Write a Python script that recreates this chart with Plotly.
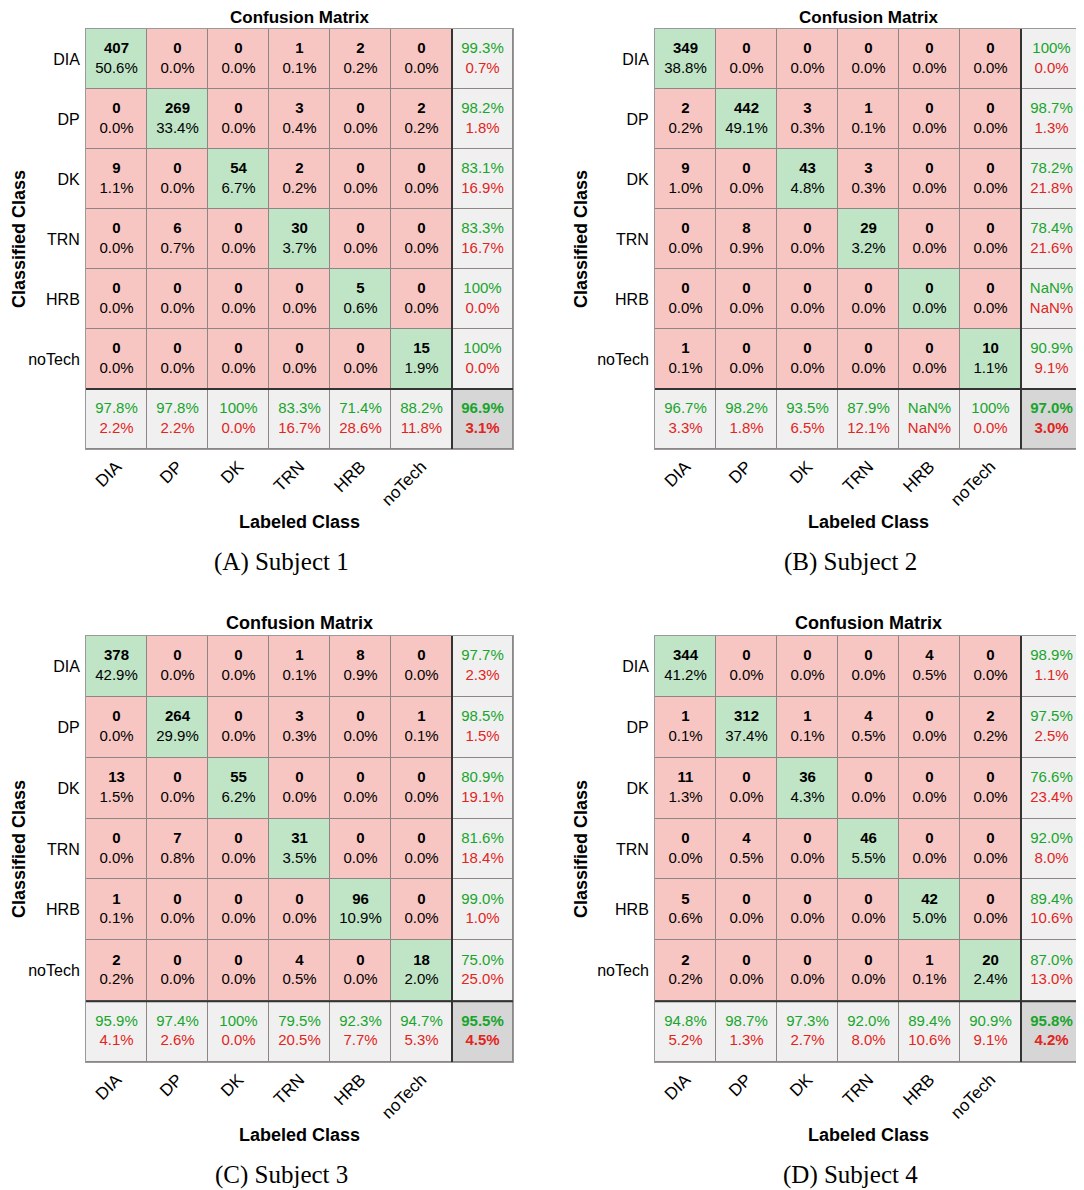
import math

import plotly.graph_objects as go

# Class names (rows = classified, columns = labeled)
CLASSES = ["DIA", "DP", "DK", "TRN", "HRB", "noTech"]

# Confusion counts
COUNTS_A = [
    [407, 0, 0, 1, 2, 0],
    [0, 269, 0, 3, 0, 2],
    [9, 0, 54, 2, 0, 0],
    [0, 6, 0, 30, 0, 0],
    [0, 0, 0, 0, 5, 0],
    [0, 0, 0, 0, 0, 15],
]
COUNTS_B = [
    [349, 0, 0, 0, 0, 0],
    [2, 442, 3, 1, 0, 0],
    [9, 0, 43, 3, 0, 0],
    [0, 8, 0, 29, 0, 0],
    [0, 0, 0, 0, 0, 0],
    [1, 0, 0, 0, 0, 10],
]
COUNTS_C = [
    [378, 0, 0, 1, 8, 0],
    [0, 264, 0, 3, 0, 1],
    [13, 0, 55, 0, 0, 0],
    [0, 7, 0, 31, 0, 0],
    [1, 0, 0, 0, 96, 0],
    [2, 0, 0, 4, 0, 18],
]
COUNTS_D = [
    [344, 0, 0, 0, 4, 0],
    [1, 312, 1, 4, 0, 2],
    [11, 0, 36, 0, 0, 0],
    [0, 4, 0, 46, 0, 0],
    [5, 0, 0, 0, 42, 0],
    [2, 0, 0, 0, 1, 20],
]
CAPTIONS = ["(A) Subject 1", "(B) Subject 2", "(C) Subject 3", "(D) Subject 4"]

# the page body has an 8px margin, so the figure is shifted by OFF
OFF = 8
W, H = 1084 - OFF, 1190 - OFF
RED_CELL = "#f8c6c2"
GREEN_CELL = "#bfe5c6"
GREY_CELL = "#f0f0f0"
DARK_CELL = "#d6d6d6"
GREEN_TXT = "#17a52b"
RED_TXT = "#e3241d"
FONT = "Liberation Sans, Arial, sans-serif"
SERIF = "Liberation Serif, Times New Roman, serif"

# page-pixel boxes of each matrix: (left, right, top, bottom)
# top row starts a little lower so its title stays inside the page
BOXES = [(86, 513, 29, 449), (655, 1082, 29, 449),
         (86, 513, 636, 1062), (655, 1082, 636, 1062)]


def px(x):
    return (x - OFF) / W


def py(y):
    return 1 - (y - OFF) / H


def fmt(v):
    if v is None or (isinstance(v, float) and math.isnan(v)):
        return "NaN%"
    if round(v, 1) == 100:
        return "100%"
    return f"{v:.1f}%"


def ratio(a, b):
    return float("nan") if b == 0 else 100 * a / b


def pair(good, bold=False):
    bad = float("nan") if math.isnan(good) else 100 - good
    g = f'<span style="color:{GREEN_TXT}">{fmt(good)}</span>'
    r = f'<span style="color:{RED_TXT}">{fmt(bad)}</span>'
    if bold:
        return f"<b>{g}<br>{r}</b>"
    return f"{g}<br>{r}"


fig = go.Figure()
colorscale = [[0, RED_CELL], [0.25, RED_CELL], [0.25, GREEN_CELL], [0.5, GREEN_CELL],
              [0.5, GREY_CELL], [0.75, GREY_CELL], [0.75, DARK_CELL], [1, DARK_CELL]]

annotations = []
shapes = []
layout_axes = {}

for k, counts in enumerate([COUNTS_A, COUNTS_B, COUNTS_C, COUNTS_D]):
    n = len(CLASSES)
    total = sum(sum(r) for r in counts)
    xa = "x" if k == 0 else f"x{k + 1}"
    ya = "y" if k == 0 else f"y{k + 1}"

    # cell categories: 0 wrong, 1 correct, 2 summary, 3 overall
    z = []
    for i in range(n + 1):
        row = []
        for j in range(n + 1):
            if i == n and j == n:
                row.append(3)
            elif i == n or j == n:
                row.append(2)
            else:
                row.append(1 if i == j else 0)
        z.append(row)
    fig.add_trace(go.Heatmap(
        z=z, x=list(range(n + 1)), y=list(range(n + 1)),
        colorscale=colorscale, zmin=-0.5, zmax=3.5, showscale=False,
        xgap=1, ygap=1, hoverinfo="skip", xaxis=xa, yaxis=ya,
    ))

    xs, ys, texts = [], [], []
    for i in range(n):
        for j in range(n):
            xs.append(j)
            ys.append(i)
            texts.append(f"<b>{counts[i][j]}</b><br>{fmt(100 * counts[i][j] / total)}")
        xs.append(n)
        ys.append(i)
        texts.append(pair(ratio(counts[i][i], sum(counts[i]))))
    for j in range(n):
        col = sum(counts[i][j] for i in range(n))
        xs.append(j)
        ys.append(n)
        texts.append(pair(ratio(counts[j][j], col)))
    correct = sum(counts[i][i] for i in range(n))
    xs.append(n)
    ys.append(n)
    texts.append(pair(ratio(correct, total), bold=True))

    fig.add_trace(go.Scatter(
        x=xs, y=ys, text=texts, mode="text",
        textfont=dict(family=FONT, size=15, color="black"),
        hoverinfo="skip", showlegend=False, xaxis=xa, yaxis=ya,
    ))

    # separators for the summary row and column
    for s in [
        dict(x0=n - 0.5, x1=n - 0.5, y0=-0.5, y1=n + 0.5),
        dict(x0=-0.5, x1=n + 0.5, y0=n - 0.5, y1=n - 0.5),
    ]:
        shapes.append(dict(type="line", xref=xa, yref=ya,
                           line=dict(color="#333333", width=2), **s))

    left, right, top, bottom = BOXES[k]
    axis_key = "xaxis" if k == 0 else f"xaxis{k + 1}"
    yaxis_key = "yaxis" if k == 0 else f"yaxis{k + 1}"
    layout_axes[axis_key] = dict(
        domain=[px(left), px(right)], range=[-0.5, n + 0.5],
        tickvals=list(range(n)), ticktext=CLASSES, tickangle=-45,
        tickfont=dict(family=FONT, size=17, color="black"),
        showgrid=False, zeroline=False, showline=True, mirror=True,
        linecolor="#9a9a9a", linewidth=1, anchor=ya, ticks="",
        ticklabelstandoff=0, fixedrange=True,
    )
    layout_axes[yaxis_key] = dict(
        domain=[py(bottom), py(top)], range=[n + 0.5, -0.5],
        tickvals=list(range(n)), ticktext=CLASSES,
        tickfont=dict(family=FONT, size=16, color="black"),
        showgrid=False, zeroline=False, showline=True, mirror=True,
        linecolor="#9a9a9a", linewidth=1, anchor=xa, ticks="",
        ticklabelstandoff=2, fixedrange=True,
    )

    cx = (left + right) / 2
    cy = (top + bottom) / 2
    top_row = k < 2
    annotations += [
        dict(text="<b>Confusion Matrix</b>", x=px(cx),
             y=py(top - 11 if top_row else top - 13),
             font=dict(family=FONT, size=17 if top_row else 18, color="black"),
             borderpad=0),
        dict(text="<b>Labeled Class</b>", x=px(cx), y=py(bottom + 73),
             font=dict(family=FONT, size=18, color="black")),
        dict(text="<b>Classified Class</b>", x=px(max(left - 74, 19)), y=py(cy), textangle=-90,
             font=dict(family=FONT, size=18, color="black")),
        dict(text=CAPTIONS[k], x=px(cx - 18), y=py(bottom + 113),
             font=dict(family=SERIF, size=25, color="black")),
    ]

for a in annotations:
    a.update(xref="paper", yref="paper", showarrow=False, xanchor="center", yanchor="middle")

fig.update_layout(
    width=W, height=H,
    margin=dict(l=0, r=0, t=0, b=0),
    paper_bgcolor="white",
    plot_bgcolor="#8e8585",
    showlegend=False,
    annotations=annotations,
    shapes=shapes,
    **layout_axes,
)

fig.write_html("out.html")
